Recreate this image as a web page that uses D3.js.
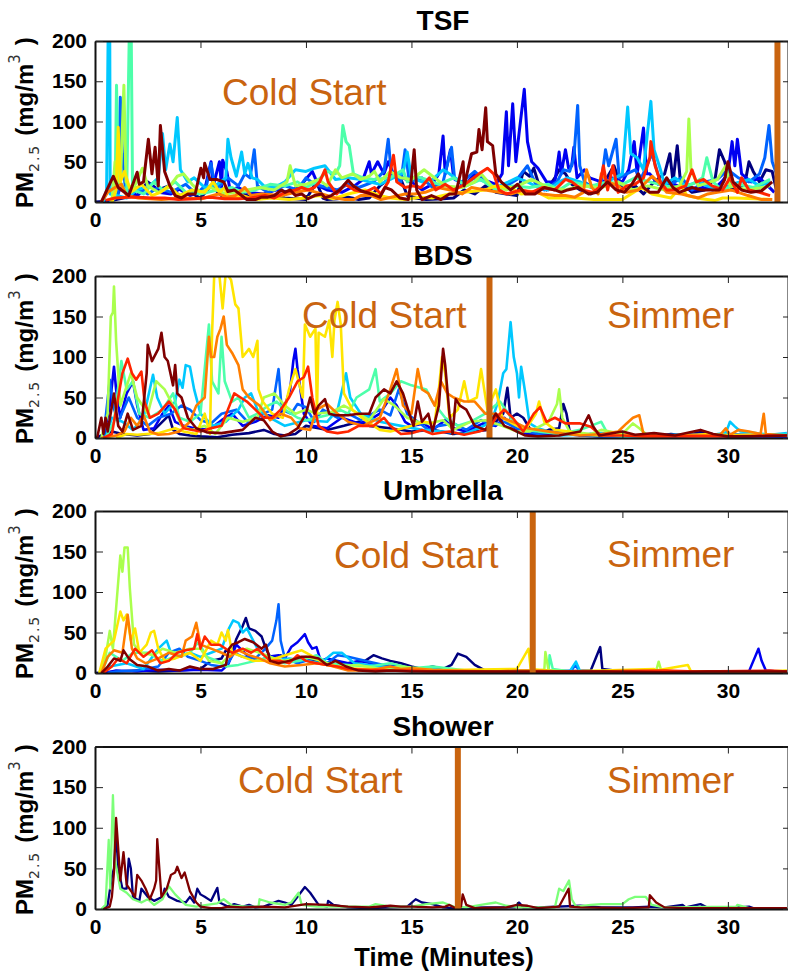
<!DOCTYPE html>
<html><head><meta charset="utf-8">
<script src="https://cdnjs.cloudflare.com/ajax/libs/d3/7.8.5/d3.min.js"></script>
<style>html,body{margin:0;padding:0;background:#fff;overflow:hidden}svg{display:block}text{font-family:"Liberation Sans",Arial,sans-serif}</style>
</head><body><svg id="c" width="788" height="972"></svg>
<script>
// Every series is a flat list: minute, PM2.5, minute, PM2.5 ...
const tsfNavy=[0,0,.6,1,1,3,1.5,6,2,8,2.5,25,3,15,3.5,20,4,8,4.5,12,5,5,5.5,20,6,8,6.5,5,7,10,7.5,5,8,8,9,5,10,3,10.5,25,10.8,5,11,3,11.5,4,12,6,12.5,3,13,5,13.5,20,14,30,14.4,35,14.8,8,15.2,5,15.7,3,16.5,4,17,5,17.5,15,18,10,18.5,20,19,12,19.5,10,20,8,20.3,38,20.6,32,20.8,42,21,25,21.4,15,21.8,30,22,40,22.3,35,22.6,22,23,15,23.5,10,24,18,24.6,45,25,15,25.6,20,26,10,26.5,25,27,35,27.25,60,27.4,25,27.6,70,27.75,25,28.3,12,28.9,15,29.4,30,29.6,65,29.85,50,30.2,15,30.8,22,31,50,31.2,38,31.5,25,31.8,40,32.1,38,32.3,15];
const tsfBlue=[.5,0,1,5,1.25,20,2,8,2.6,22,3,12,3.6,10,4,16,4.5,8,5.2,15,5.5,50,5.6,20,5.9,50,6,18,6.05,52,6.25,38,6.4,15,6.8,18,7.2,12,8,10,8.6,15,9.2,12,9.8,22,10.3,38,10.6,20,11,15,11.7,12,12.3,20,12.7,28,13,50,13.1,35,13.4,50,13.7,35,13.9,50,14.2,32,14.6,30,15,25,15.5,15,16,22,16.3,35,16.5,82,16.6,35,16.85,65,17,30,17.5,20,18,35,18.4,28,19,22,19.3,35,19.5,112,19.6,45,19.8,122,19.95,50,20.1,85,20.35,140,20.5,75,20.7,50,21,42,21.4,25,21.8,25,22,62,22.1,35,22.3,65,22.45,42,22.6,45,22.7,68,22.85,30,23.2,40,23.45,30,24,25,24.5,30,25,25,25.3,40,25.56,75,25.7,35,26,92,26.15,35,26.3,35,26.7,22,27.2,25,27.8,18,28.3,15,28.8,18,29.3,15,29.7,25,30,35,30.2,75,30.33,45,30.45,78,30.65,35,31.1,25,31.5,30,31.9,20,32.2,12];
const tsfAzure=[.7,0,1.1,10,1.2,130,1.3,60,1.45,12,2,18,2.5,10,3,18,3.6,12,4.3,22,4.8,10,5.3,22,5.5,48,5.7,15,6.3,30,6.8,20,7.1,35,7.35,30,7.55,65,7.7,20,8.2,12,9,20,9.6,15,10,30,10.4,22,11,18,11.5,15,12,22,12.5,18,13.2,25,13.7,38,13.9,78,14.05,35,14.5,25,14.7,65,14.9,25,15.5,30,16,18,16.5,25,16.9,68,17.05,28,17.4,25,18,38,18.5,25,19,15,19.5,20,20,28,20.5,45,20.9,22,21.3,15,21.9,25,22.2,40,22.5,38,22.7,55,22.88,120,22.98,45,23.2,25,23.6,18,24,25,24.2,65,24.35,45,24.7,78,24.85,30,25.2,35,25.6,40,25.9,30,26.4,60,26.8,25,27.3,22,27.8,30,28.3,15,28.9,25,29.5,28,30,40,30.5,30,31,25,31.5,35,31.75,55,31.95,95,32.1,50,32.3,35];
const tsfCyan=[.4,0,.55,15,.62,200,.7,200,.72,10,1.5,5,2,15,2.6,20,3,30,3.2,85,3.35,40,3.55,72,3.7,50,3.9,105,4.05,40,4.4,25,4.7,30,5.2,18,5.8,22,6.2,30,6.3,78,6.45,55,6.7,32,6.95,62,7.1,35,7.25,48,7.45,30,7.7,28,8,20,8.5,18,9,25,9.5,40,10,38,10.4,42,10.9,45,11.4,28,12,30,12.6,28,13,25,13.5,22,14,28,14.6,36,14.8,62,15,30,15.5,25,16,28,16.5,40,16.8,35,17.5,22,18,30,18.5,25,19,18,19.6,25,20,30,20.5,25,21,18,21.5,15,22,25,22.4,30,23,25,23.5,18,24,22,24.5,28,25,35,25.25,118,25.4,60,25.7,55,26,40,26.35,125,26.5,65,26.75,45,27,22,27.5,30,28,20,28.6,25,29,20,29.6,15,30.2,22,31,28,31.5,20,32,25];
const tsfAqua=[.7,0,.95,5,1.02,145,1.1,30,1.5,10,1.62,200,1.72,200,1.78,15,2.3,10,2.8,25,3.2,15,3.8,25,4.3,12,5,10,5.8,15,6.5,18,7,12,7.6,15,8.3,22,9,20,9.6,25,10,18,10.5,25,11,38,11.4,35,11.6,45,11.75,95,11.9,75,12.05,70,12.25,35,12.7,30,13.2,28,14,30,14.6,40,14.8,25,15.2,32,15.7,28,16.3,22,17,30,17.6,20,18.3,28,19,15,19.8,20,20.6,18,21.5,22,22,15,22.6,25,23.5,20,24.3,25,25,22,25.6,30,26.3,25,27,20,27.6,18,28.3,22,28.8,30,29,55,29.15,40,29.3,25,29.7,15,30.5,22,31.2,18,32,28];
const tsfLime=[.8,0,.95,50,1.2,20,1.37,145,1.47,25,1.8,15,2.25,42,2.5,20,3,12,3.5,18,3.9,32,4.2,35,4.6,22,5,12,5.5,18,6.2,10,7,14,7.8,18,8.5,15,9.1,25,9.25,45,9.5,20,10,22,10.6,28,11,20,11.4,40,11.7,30,12.2,35,12.4,32,12.6,28,13,32,13.25,38,13.5,25,14,38,14.5,30,15,28,15.6,40,16,32,16.6,20,17.4,18,18,25,18.3,35,18.8,20,19.5,15,20.2,22,20.7,28,21.5,18,22.3,15,23,20,24,18,24.8,25,25.5,15,26.2,20,27,15,27.7,20,28.05,38,28.15,103,28.25,40,28.6,20,29.5,28,29.9,45,30.1,20,31,15,32,20];
const tsfYellow=[.8,0,1,15,1.1,93,1.2,25,1.4,38,1.7,12,2.2,22,2.7,8,3.1,12,3.5,20,4,8,4.6,15,5.2,12,5.6,25,5.9,12,6.15,18,6.3,5,7,8,7.6,3,8.4,5,9.2,3,10,5,10.6,8,11.3,4,12,10,12.8,15,13.5,8,14,5,14.7,3,15.4,6,16,5,16.8,10,17.5,12,18.5,15,19,20,19.7,18,20.2,10,21,12,21.5,5,22.3,5,22.75,5,23.65,3,25,3,25.9,18,26.4,10,27.3,5,27.8,20,28.05,8,28.75,4,29.4,2,29.75,5,30.35,5,31.3,4,32.1,3];
const tsfOrange=[.3,0,.6,12,.95,18,1.25,22,1.5,8,2.05,5,3.15,3,4.1,5,5.05,4,5.85,10,6.25,6,6.65,8,7.1,18,7.4,8,7.9,10,8.85,8,9.5,12,10.1,15,10.75,10,11.4,5,11.85,3,12.25,3,12.6,8,13.1,8,13.55,3,14.05,6,14.7,10,15.15,10,15.65,12,16.25,18,16.85,15,17.4,10,17.85,18,18.5,15,19.15,12,19.7,10,20.2,14,20.7,13,21.2,10,21.8,8,22.3,8,22.75,6,23.15,12,23.3,40,23.55,18,23.85,10,24,35,24.3,25,24.8,20,25.2,12,25.75,15,26.4,32,26.7,25,27.1,12,27.8,10,28.6,5,29.05,10,29.5,12,30.15,15,30.95,8,31.6,3,32.1,3];
const tsfRed=[.5,2,.95,5,1.6,6,2.05,6,2.7,5,3.3,5,3.95,3,4.75,4,5.45,6,6.15,4,6.8,4,7.4,5,8.05,8,8.5,5,9,12,9.5,15,9.8,18,10.1,15,10.4,18,10.65,25,10.9,40,11.05,25,11.45,10,11.85,22,12.3,15,12.8,12,13.25,18,13.55,10,13.9,25,14.15,58,14.3,25,14.7,18,15.05,20,15.45,18,15.85,30,16.15,15,16.6,22,17,15,17.4,20,17.85,28,18.2,35,18.6,42,18.9,35,19.15,15,19.5,10,20.2,15,20.7,12,21.2,18,21.8,15,22.3,28,22.6,25,23.1,15,23.6,12,23.9,18,24.1,45,24.3,15,24.55,45,24.8,12,25.2,20,25.6,22,26,30,26.3,55,26.35,75,26.55,45,26.8,25,27.1,15,27.5,15,28,20,28.3,40,28.5,25,28.85,28,29.25,20,29.75,15,30.1,30,30.45,12,30.65,30,31,15,31.5,12,32,8];
const tsfDark=[.3,0,.87,32,1.1,18,1.6,8,2,37,2.1,22,2.3,25,2.53,78,2.7,35,2.85,68,3,20,3.1,95,3.3,38,3.55,20,3.8,8,4.1,5,4.4,10,4.75,10,5.02,42,5.15,30,5.2,48,5.45,28,5.77,28,6.1,25,6.3,13,6.6,15,6.95,8,7.2,3,7.6,3,7.9,6,8.2,6,8.5,8,8.85,15,9,12,9.25,15,9.5,8,9.8,10,10.1,4,10.4,8,10.75,10,10.9,5,11.2,8,11.6,15,12,27,12.25,20,12.6,14,13.1,10,13.5,6,13.75,18,14.05,15,14.45,5,14.85,3,14.98,25,15.13,65,15.25,15,15.5,3,15.95,8,16.4,3,16.8,10,17.1,10,17.45,50,17.5,20,17.85,60,18.1,62,18.2,90,18.35,65,18.52,117,18.6,75,18.85,70,19,35,19.25,25,19.7,15,20.03,22,20.4,10,20.85,10,21.3,18,21.8,15,22.1,12,22.4,15,22.9,18,23.4,10,23.8,12,24.3,25,24.7,15,25.1,12,25.45,22,25.75,35,26,18,26.3,12,26.7,12,27.1,30,27.4,18,27.7,12,28.3,18,28.75,15,29.25,15,29.6,15,29.85,28,30,50,30.25,25,30.65,15,31.1,12,31.6,14,32.1,25];

const bdsNavy=[0,0,.3,3,.8,8,1.3,5,2,3,2.6,5,3,15,3.5,28,3.7,10,4,5,4.5,3,5,2,5.8,1,6.5,4,7.3,6,8,10,8.5,5,9,3,9.5,5,10,15,10.6,12,11,10,11.8,15,12.5,20,13,15,14,12,15,8,16,10,17,5,18,8,18.6,10,19,20,19.35,30,19.55,62,19.7,25,20,30,20.3,25,20.6,12,21,5,21.5,10,22,12,22.2,42,22.35,30,22.5,8,23,3,23.5,5,24,3,25,4,26,3,26.8,3,27.3,5,28,3,28.8,8,29.5,3,30.5,2,31.5,3,32.8,2];
const bdsBlue=[.4,0,.7,40,.9,88,1,60,1.2,25,1.5,55,1.8,70,2,40,2.3,10,2.8,12,3.2,30,3.5,40,3.8,20,4.2,15,4.7,12,5.4,10,6,22,6.5,30,7,15,7.6,20,8.2,28,8.7,25,9,40,9.25,60,9.4,95,9.5,110,9.6,85,9.9,30,10.3,15,11,12,11.7,25,12.5,18,13,22,13.5,30,14,50,14.3,40,14.7,20,15,15,15.6,18,16,10,16.6,22,17,12,17.6,8,18.4,18,19,15,19.4,25,20,10,20.5,5,21,4,22,6,23,3,24,2,25,3,26,2,27.5,2,29,3,30,2,32.8,2];
const bdsAzure=[.4,0,.7,72,.85,40,1.1,20,1.6,50,2,25,2.5,15,3,25,3.6,30,4.1,40,4.5,35,5,22,5.5,18,6,30,6.7,35,7.3,18,8,30,8.4,35,8.7,85,8.85,35,9.3,30,9.6,42,10,38,10.4,20,10.8,35,11.5,25,12,30,12.6,22,13.5,35,14,28,14.4,60,14.8,30,15.3,20,15.8,10,16.3,15,17,18,17.6,10,18.3,22,18.8,15,19.4,20,20,12,20.5,8,21,5,22,8,23,4,24,2,25,2,30,5,32.8,3];
const bdsCyan=[.5,0,.8,25,1.3,20,1.8,10,2.3,25,2.75,78,2.95,50,3.3,30,3.8,45,4,72,4.15,62,4.3,90,4.5,88,4.7,60,5,30,5.6,15,6.2,20,6.8,35,7.1,50,7.4,55,7.7,35,8.3,25,9,15,10,22,11,20,11.5,35,11.9,80,12.1,50,12.6,30,13.5,20,14.5,15,15.5,10,16.5,8,17.5,5,18.2,12,18.8,20,19.1,45,19.35,80,19.5,85,19.7,143,19.85,100,20,80,20.1,50,20.2,88,20.4,55,20.6,18,21,12,21.5,8,22,3,23,4,24,6,25,3,26,2,27.5,4,29,3,29.9,6,30.1,20,30.3,15,30.6,8,31,7,32,4,32.8,6];
const bdsAqua=[.5,0,.9,20,1.25,95,1.5,60,1.8,70,2.1,30,2.6,25,3.2,35,3.7,55,4,25,4.5,20,5,30,5.4,140,5.55,70,5.85,55,6,125,6.15,70,6.5,45,6.8,50,7.3,25,7.7,30,8.2,40,8.6,45,9,35,9.6,25,10,22,11,28,11.6,35,12,30,12.4,50,13,60,13.3,85,13.5,45,14,55,14.5,70,15,65,15.7,60,16,45,16.6,25,17.2,15,17.8,20,18.5,30,19.2,45,19.8,22,20.5,10,21,8,22,5,23,10,23.5,15,24,20,24.3,5,25,2,26,3,28,3,30,3,32.8,4];
const bdsLime=[.3,0,.6,30,.75,150,.85,155,.9,187,1,120,1.2,40,1.7,80,2,50,2.5,30,2.9,70,3.3,60,3.7,40,4.1,15,4.6,10,5.2,15,5.7,5,6.3,25,7,20,7.7,25,8,50,8.5,55,9,40,9.5,30,10,35,10.5,30,11.2,32,11.8,40,12.5,30,13,22,13.7,48,14.2,40,14.8,25,15.3,20,15.8,18,16.5,22,17,10,17.8,20,18.5,22,19.3,15,20,8,20.6,8,21.5,20,21.9,42,22,60,22.15,25,22.5,8,23.5,5,24,10,25,5,25.5,18,25.8,12,26.2,3,28,3,30,4,32.8,3];
const bdsYellow=[1,0,1.5,5,2,4,3,6,3.8,12,4.2,8,4.8,5,5.2,30,5.45,5,5.55,130,5.65,200,5.9,200,6.05,160,6.2,205,6.45,195,6.65,165,6.8,160,7,100,7.3,110,7.5,100,7.7,120,7.75,60,7.95,45,8.4,30,8.9,25,9.2,60,9.5,85,9.85,50,9.95,140,10.2,125,10.45,135,10.52,30,10.6,130,10.9,125,11.1,145,11.25,100,11.35,145,11.5,168,11.65,140,11.8,55,12.2,35,12.8,22,13.5,10,14,8,14.6,12,15,15,15.6,20,16.1,18,16.3,60,16.45,100,16.6,80,16.8,25,17.2,35,17.5,70,17.7,45,18.1,50,18.3,85,18.6,35,19,60,19.3,25,20,15,20.4,10,20.9,30,21.05,45,21.3,20,21.8,10,22.5,8,23,4,24,3,25,4,26,2,28,3,29,5,30,3,31,4,32.8,3];
const bdsOrange=[.3,0,1,3,1.4,8,1.7,25,2,15,2.3,28,2.6,8,3,4,3.5,5,4,8,4.5,20,4.8,40,5.2,50,5.4,125,5.5,100,5.65,100,5.8,125,5.95,135,6.1,150,6.25,115,6.5,105,6.8,90,7,60,7.3,50,7.8,40,8.3,22,8.8,30,9.3,25,9.7,12,10.2,10,10.5,35,11,42,11.5,30,12,20,12.7,15,13.5,25,14,60,14.3,85,14.6,40,15,30,15.3,85,15.5,60,15.8,55,16.1,40,16.4,70,16.7,55,17,50,17.5,45,18,45,18.5,30,19,30,19.3,25,20,18,20.5,12,21,10,22,6,23,3,24,5,24.8,8,25.2,18,25.5,25,25.8,28,26,5,27,3,28,4,29.6,3,29.9,12,30.1,4,30.5,10,31,8,31.55,5,31.7,30,31.8,5,32.8,3];
const bdsRed=[.4,0,.8,5,1.1,50,1.3,80,1.55,98,1.75,80,1.95,72,2.2,82,2.35,45,2.6,25,3,30,3.5,45,3.8,35,4.2,12,5,8,5.5,12,6,15,6.3,35,6.6,55,6.9,50,7.2,45,7.6,35,8,25,8.4,25,8.8,35,9.2,50,9.6,70,9.9,75,10.1,88,10.3,50,10.6,15,11,8,11.5,6,12,8,12.5,15,13.2,15,13.7,25,14,15,14.5,5,15,6,15.5,10,16,5,16.8,8,17.5,4,18.2,8,18.7,12,19,25,19.4,35,19.8,25,20.3,8,20.8,30,21.1,38,21.4,20,21.8,25,22.3,18,23,18,23.5,14,24,3,25,3,26,2,28,2,30,2,32,3,32.8,3];
const bdsDark=[.1,0,.3,25,.4,5,.5,25,.6,8,.9,55,1.1,15,1.3,8,1.55,30,1.8,10,2.2,15,2.45,80,2.5,115,2.7,95,3,110,3.15,130,3.3,100,3.45,95,3.7,65,3.8,90,3.9,55,4.1,50,4.4,25,4.8,12,5.3,7,6,6,7,10,7.6,25,8,22,8.4,8,8.8,2,9.2,5,9.6,12,10,30,10.2,50,10.4,30,10.6,40,10.9,48,11.1,30,11.4,28,12,28,12.5,30,13,30,13.3,50,13.7,60,14,55,14.3,70,14.6,55,14.9,30,15.1,15,15.3,45,15.5,20,15.8,30,16,8,16.3,40,16.5,110,16.6,90,16.8,30,16.95,5,17.1,48,17.3,40,17.6,35,18,15,18.5,10,19,30,19.4,15,19.7,12,20,8,20.4,3,21,2,22,3,23,8,23.4,28,23.6,15,23.9,3,25,8,25.6,4,26.5,6,27.5,3,28.7,10,29.3,5,30,2,31,2,32.8,3];

const umbNavy=[0,0,.5,1,1,2,2,3,3,2,4,3,5,5,5.5,15,6,18,6.2,28,6.5,25,6.7,42,7,58,7.15,68,7.3,55,7.6,52,7.9,45,8.1,30,8.4,15,8.8,22,9.2,15,10,15,10.6,15,11.5,10,12,12,12.8,15,13.2,22,13.6,18,14,15,14.5,12,15,8,15.5,5,16,8,16.5,5,16.9,10,17.2,24,17.6,20,18,10,18.5,3,20,2,21,2,22,2,23.5,3,23.95,32,24.05,5,25,2,27,2,29,2,31,1,32.8,1];
const umbBlue=[.5,0,1,3,2,2,3,4,4,3,5,4,6,3,6.3,10,6.7,35,7.2,22,7.8,15,8.2,20,8.7,22,9,18,9.3,32,9.6,38,9.95,48,10.1,38,10.3,30,10.5,32,10.7,15,11,18,12,12,12.5,15,13.5,10,14.5,8,15,5,16,5,17,3,19,3,22,2,24,2,27,2,31,2,31.45,30,31.6,15,31.8,3,32.8,1];
const umbAzure=[.6,0,1,2,2,3,3,8,3.5,25,4,30,4.4,20,5,15,5.5,10,6,8,6.3,12,6.6,25,7,20,7.6,18,8,28,8.4,40,8.6,65,8.7,85,8.8,40,9,18,9.6,12,10.4,18,11,12,11.5,22,12,20,13,14,14,8,15,5,16,4,17,2,19,2,22.6,3,22.75,10,23,2,26,2,29,2,32.8,1];
const umbCyan=[.4,0,.7,8,1.5,12,2.3,5,3,30,3.4,40,3.6,25,4,20,4.5,25,5,20,5.5,25,6,30,6.35,55,6.55,65,6.8,62,7,50,7.2,55,7.4,45,7.8,25,8.5,15,9.2,18,10,15,10.7,12,11.3,25,11.7,25,12.3,12,13,10,14,6,15,3,16,5,17,2,19,2,22.5,2,22.8,14,23,2,30,1,32.8,1];
const umbAqua=[.3,0,.7,25,1.3,15,1.8,25,2.5,25,3.2,15,3.8,20,4.5,25,4.9,38,5.3,20,5.8,15,6.2,8,6.8,10,7.6,15,8.3,20,9,12,9.7,15,10.5,22,11,12,12,10,13,8,14,12,15,6,16,8,17,5,18,2,20,2,21.5,2,21.55,22,21.7,5,22.5,2,32.8,1];
const umbLime=[.2,0,.5,20,.7,52,.85,30,1,80,1.2,145,1.3,125,1.4,155,1.55,155,1.65,105,1.85,35,2.2,25,2.8,22,3.2,30,3.8,25,4.5,30,5,30,5.4,15,6,12,6.5,25,7.2,30,7.8,25,8.5,18,9,15,10,20,10.7,15,11.5,8,12.5,10,13.5,5,14.5,8,16,4,18,3,20,3,21,3,21.3,4,21.35,26,21.5,3,23,2,25,2,26.6,3,26.72,14,26.85,2,28,2,32.8,2];
const umbYellow=[.2,0,.5,30,.9,40,1.2,76,1.35,65,1.5,72,1.7,40,1.9,55,2.1,25,2.45,35,2.65,50,2.8,52,3,30,3.3,15,3.8,18,4.5,25,5,15,5.5,40,5.8,35,6,50,6.2,40,6.3,53,6.5,25,7,20,7.5,15,8.2,15,8.8,20,9.4,25,9.8,28,10.5,18,11,10,12,6,13,5,14,3,15,5,16,3,17.5,4,20,5,20.55,30,20.65,5,22,2,24,3,26.5,5,26.6,3,28.1,10,28.25,2,31,1,32.8,3];
const umbOrange=[.3,0,.6,20,.9,28,1.3,25,1.55,72,1.75,30,2,18,2.4,12,3,18,3.5,25,4.1,20,4.3,40,4.6,45,4.8,62,5,35,5.5,30,6,25,6.4,20,6.8,28,7.3,22,7.8,18,8.3,12,9,8,9.8,10,10.5,12,11,10,12,3,13,3,14,8,14.5,5,15,6,16,4,17,3,19,2,20,3,21,3,22,2,24,2,25.2,3,26,3,28,2,31,2,32.8,2];
const umbRed=[.4,0,.8,8,1.1,18,1.5,12,1.9,30,2.3,20,2.7,28,3.1,12,3.5,15,3.9,25,4.3,28,4.7,30,4.85,48,5,30,5.2,45,5.5,35,5.9,35,6.2,30,6.5,25,7,30,7.4,25,7.7,30,8,22,8.3,15,8.8,15,9.2,12,9.6,22,10,15,10.5,12,11,10,11.5,8,12,5,13,4,14,3,15,3,16,2,18,2,20,1,22,2,25,2,27,3,28.5,2,32,3,32.8,2];
const umbDark=[.3,0,.6,8,.9,18,1.2,15,1.35,28,1.6,18,2,10,2.5,8,3,3,3.5,5,4,3,4.5,8,5,5,5.6,5,6.2,10,6.35,30,6.5,35,6.8,38,7.1,42,7.5,38,7.9,30,8.1,35,8.3,15,8.7,12,9.2,15,9.8,20,10.2,20,10.6,18,11,10,11.4,15,11.9,8,12.5,3,13.3,2,14,3,15,2,16,2,18,2,21,2,24,2,27,1,29,2,32.8,2];

const showerNavy=[.4,0,.6,5,.8,40,.9,50,1,95,1.1,50,1.3,25,1.5,25,1.6,62,1.7,50,1.8,15,2.1,10,2.2,25,2.5,15,2.8,10,3.2,15,3.3,25,3.5,15,3.9,10,4.3,8,4.5,15,4.7,8,4.85,25,5,18,5.2,15,5.5,10,5.8,26,5.9,8,6.3,3,6.6,6,7,3,7.3,5,7.6,2,8,3,8.3,6,8.7,10,9,8,9.3,5,9.6,15,9.95,27,10.2,20,10.6,5,11,3,11.05,10,11.3,5,12,2,13,1,14,2,14.8,3,15.2,12,15.5,8,16,6,16.5,2,17,1,18.5,2,19.9,2,20.1,8,20.3,2,21,2,23,4,24,2,25.5,2,26.3,3,27,2,27.85,5,28,2,28.7,6,29,2,30,1,31,3,31.2,1,32.8,1];
const showerGreen=[.3,0,.5,5,.65,85,.72,25,.85,140,.95,60,1.2,25,1.5,20,1.8,12,2.2,8,2.5,12,2.8,5,3.2,12,3.5,28,3.8,18,4.3,5,4.8,3,5.3,5,5.8,7,6.1,12,6.5,4,7.2,3,7.75,3,7.8,12,8.3,8,9,5,9.3,8,9.65,20,9.8,5,10.5,3,12,3,13,3,13.3,6,14,3,15,3,15.7,6,16.5,8,17,3,17.6,2,18.5,6,19,8,19.5,4,20.2,2,21.8,2,22,25,22.2,22,22.47,35,22.6,12,22.8,3,23.5,5,24,6,25,6,25.3,12,25.6,15,26.1,15,26.4,5,27,2,30.4,3,30.45,5,31,1,32.8,1];
const showerDark=[.4,0,.7,3,.8,15,.9,45,1,112,1.1,75,1.2,35,1.35,70,1.5,30,1.9,15,2,42,2.2,35,2.4,25,2.6,12,2.8,25,2.9,35,2.95,86,3.05,50,3.15,15,3.4,25,3.6,42,3.8,45,3.9,52,4.1,38,4.25,45,4.5,22,4.8,8,5,3,5.5,1,6,1,6.3,3,7,2,8,3,9,2,10,6,11,5,12,3,13,2,14,4,14.5,3,15,3,16,2,16.6,3,16.8,5,17.1,1,17.35,3,17.43,18,17.6,5,18,1,19.5,2,20,5,20.5,4,21,1,22,3,22.45,25,22.52,3,23,2,25,1,26.25,2,26.3,17,26.6,8,27,2,28,1,30,1,31.5,1,32.8,1];

const jetColors=["#00007f","#0000f1","#0063ff","#00c8ff","#4dffaa","#aaff4d","#ffe500","#ff7e00","#ff2500","#7f0000"];
const showerColors=["#00007f","#7cff79","#7f0000"];
const panelTitles=["TSF","BDS","Umbrella","Shower"];
const panelSeries=[
 [tsfNavy,tsfBlue,tsfAzure,tsfCyan,tsfAqua,tsfLime,tsfYellow,tsfOrange,tsfRed,tsfDark],
 [bdsNavy,bdsBlue,bdsAzure,bdsCyan,bdsAqua,bdsLime,bdsYellow,bdsOrange,bdsRed,bdsDark],
 [umbNavy,umbBlue,umbAzure,umbCyan,umbAqua,umbLime,umbYellow,umbOrange,umbRed,umbDark],
 [showerNavy,showerGreen,showerDark]];
const transitionMinutes=[32.35,18.7,20.75,17.2];
const xTicks=[0,5,10,15,20,25,30];
const yTicks=[0,50,100,150,200];
const xDomain=[0,32.85];
const yDomain=[0,200];

const layout=[
 {top:41,bottom:202,w:3,cold:[222,105],simmer:null},
 {top:276,bottom:438,w:2.6,cold:[302,328],simmer:[607,328]},
 {top:511,bottom:673,w:2.5,cold:[334,568],simmer:[607,567]},
 {top:746.5,bottom:909,w:2.3,cold:[238,793],simmer:[607,793]}];
const ORANGE="#c9640f";
const svg=d3.select("#c");
const x=d3.scaleLinear().domain(xDomain).range([95,788]);
const pairs=f=>d3.range(0,f.length,2).map(i=>[f[i],f[i+1]]);

panelTitles.forEach((title,i)=>{
 const L=layout[i];
 const y=d3.scaleLinear().domain(yDomain).range([L.bottom,L.top]);
 const g=svg.append("g");
 const cid="clip"+i;
 g.append("clipPath").attr("id",cid).append("rect").attr("x",95).attr("y",L.top).attr("width",693).attr("height",L.bottom-L.top);
 const colors=panelSeries[i].length===3?showerColors:jetColors;
 const line=d3.line().x(d=>x(d[0])).y(d=>y(d[1]));
 const plot=g.append("g").attr("clip-path",`url(#${cid})`);
 plot.selectAll("path").data(panelSeries[i]).join("path")
   .attr("d",s=>line(pairs(s))).attr("fill","none")
   .attr("stroke",(s,k)=>colors[k]).attr("stroke-width",L.w).attr("stroke-linejoin","round");
 plot.append("line").attr("x1",x(transitionMinutes[i])).attr("x2",x(transitionMinutes[i]))
   .attr("y1",L.top).attr("y2",L.bottom).attr("stroke",ORANGE).attr("stroke-width",6);

 const ax=(gen,tx,ty)=>{const a=g.append("g").attr("transform",`translate(${tx},${ty})`).call(gen);
   a.select(".domain").attr("stroke","#111").attr("stroke-width",2);
   a.selectAll(".tick line").attr("stroke","#222").attr("stroke-width",1);
   a.selectAll("text").attr("font-family",'"Liberation Sans"').attr("font-weight","bold").attr("font-size",21).attr("fill","#000");
   return a;};
 ax(d3.axisBottom(x).tickValues(xTicks).tickSizeInner(-7).tickSizeOuter(0).tickPadding(0),0,L.bottom)
   .selectAll("text").attr("dy",null).attr("y",25);
 ax(d3.axisTop(x).tickValues(xTicks).tickSizeInner(-7).tickSizeOuter(0).tickFormat(""),0,L.top);
 ax(d3.axisLeft(y).tickValues(yTicks).tickSizeInner(-8).tickSizeOuter(0).tickPadding(0),95,0)
   .selectAll("text").attr("x",-8);
 ax(d3.axisRight(y).tickValues(yTicks).tickSizeInner(-5).tickSizeOuter(0).tickFormat(""),788,0);

 g.append("text").attr("x",443).attr("y",L.top-11).attr("text-anchor","middle")
  .attr("font-weight","bold").attr("font-size",28).text(title);

 const lab=g.append("text").attr("transform",`translate(33,${L.bottom+6}) rotate(-90)`).attr("font-weight","bold").attr("font-size",24);
 lab.append("tspan").text("PM");
 lab.append("tspan").attr("dy",6).attr("font-family","DejaVu Sans").attr("font-weight","normal").attr("font-size",14).attr("letter-spacing",2).attr("fill","#333").text("2.5");
 lab.append("tspan").attr("dy",-6).attr("dx",8).text("(mg/m");
 lab.append("tspan").attr("dy",-13).attr("font-family","DejaVu Sans").attr("font-weight","normal").attr("font-size",15).attr("fill","#333").text("3");
 lab.append("tspan").attr("dy",13).attr("dx",9).text(")");

 g.append("text").attr("x",L.cold[0]).attr("y",L.cold[1]).attr("font-size",37).attr("fill",ORANGE).text("Cold Start");
 if(L.simmer) g.append("text").attr("x",L.simmer[0]).attr("y",L.simmer[1]).attr("font-size",37).attr("fill",ORANGE).text("Simmer");
});
svg.append("text").attr("x",444).attr("y",966).attr("text-anchor","middle").attr("font-weight","bold").attr("font-size",25.5).text("Time (Minutes)");
</script></body></html>
